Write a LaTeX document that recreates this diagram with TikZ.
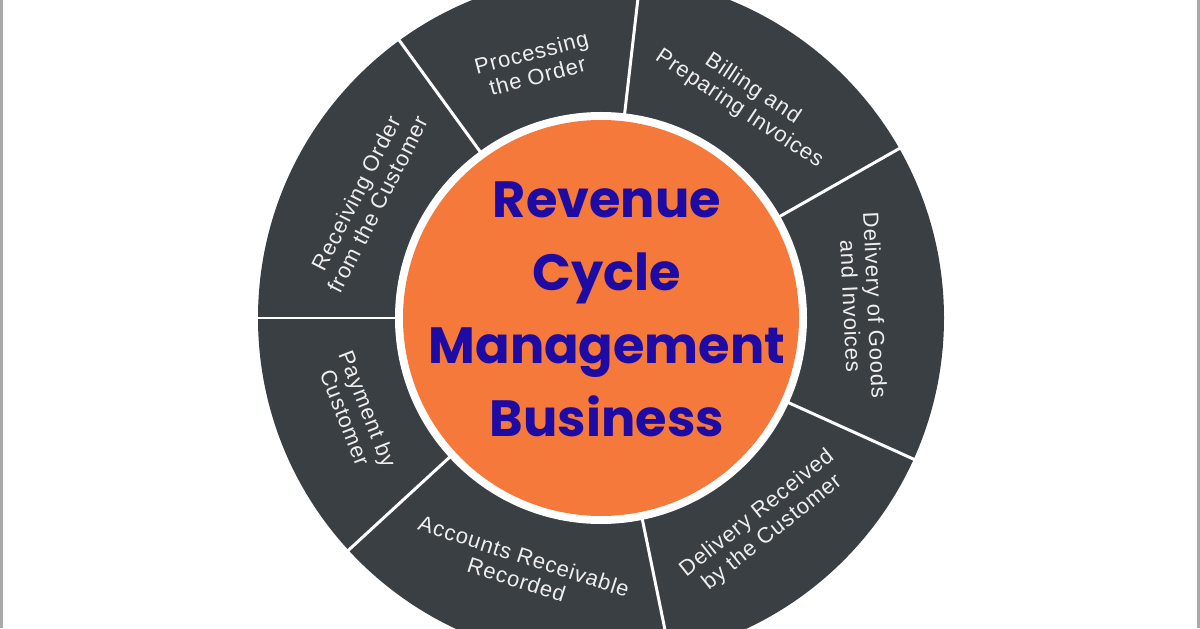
\documentclass[tikz,border=0pt]{standalone}
\usepackage{fontspec}
\setmainfont{Liberation Sans}
\newfontfamily\titlefont{Poppins}
\definecolor{ringgray}{HTML}{3A3F44}
\definecolor{ringorange}{HTML}{F5793B}
\definecolor{titleblue}{HTML}{1E0BA3}
\definecolor{labelwhite}{HTML}{EEEEEE}
\definecolor{bordergray}{HTML}{A9A9A9}
\begin{document}
\begin{tikzpicture}[line join=round, line cap=round,
		divider/.style={white, line width=1.7pt},
		steplabel/.style={text=labelwhite, align=center, inner sep=0pt,
			font=\addfontfeature{LetterSpace=4}\fontsize{12.5}{13.8}\selectfont},
		title/.style={text=titleblue, align=center, inner sep=0pt,
			font=\titlefont\bfseries\fontsize{29}{41.5}\selectfont}]
	\useasboundingbox (-12.02,-6.2) rectangle (11.98,6.36);
	\begin{scope}
		\clip (-12.02,-6.2) rectangle (11.98,6.36);
		% ring and centre disc
		\fill[ringgray] (0,0) circle (6.86);
		\fill[white] (0,0) circle (4.12);
		\fill[ringorange] (0,0) circle (3.96);
		\foreach \a in {180,126,83.4,29.6,-24.3,-78.4,-137.4}
			\draw[divider] (\a:4.05) -- (\a:6.95);
	\end{scope}
	% labels of the seven steps
	\foreach \ang/\rot/\txt [count=\i] in {
			153/63/{Receiving Order\\from the Customer},
			104.7/14.7/{Processing\\the Order},
			56.5/-33.5/{Billing and\\Preparing Invoices},
			2.65/-87.35/{Delivery of Goods\\and Invoices},
			-51.4/38.6/{Delivery Received\\by the Customer},
			-107.9/-17.9/{Accounts Receivable\\Recorded},
			-158.7/-68.7/{Payment by\\Customer}}
		\node[steplabel, rotate=\rot] (step\i) at (\ang:5.25) {\txt};
	\node[title] (cycle) at (0.12,0.17) {Revenue\\Cycle\\Management\\Business};
	% side borders
	\fill[bordergray] (-12.02,-6.2) rectangle (-11.96,6.36);
	\fill[bordergray] (11.92,-6.2) rectangle (11.98,6.36);
\end{tikzpicture}
\end{document}
